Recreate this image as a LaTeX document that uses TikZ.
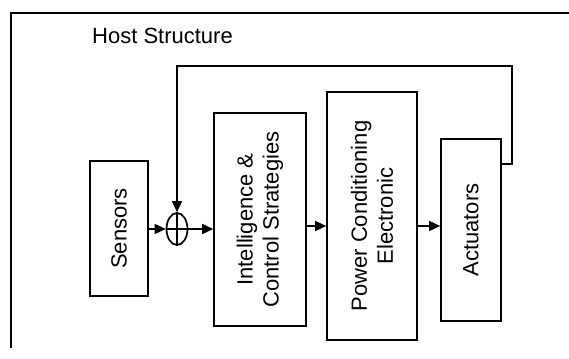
\documentclass[tikz,border=0pt]{standalone}
\usepackage{fontspec}
\setmainfont{Liberation Sans}
\usetikzlibrary{arrows.meta,shapes.geometric}
\begin{document}
\begin{tikzpicture}[x=1pt,y=-1pt,
  line width=1.7pt,
  font=\fontsize{22}{26}\selectfont,
  blockbox/.style={draw,rectangle,inner sep=0pt,line width=1.7pt},
  arr/.style={-{Triangle[length=11pt,width=10pt]}},
  rtext/.style={rotate=90,align=center}]
\useasboundingbox (0,0) rectangle (569,358);
% frame of host structure
\coordinate (ftl) at (11,13);
\coordinate (ftr) at (569,13);
\coordinate (fbl) at (11,348);
\draw (ftr) -- (ftl) -- (fbl);
\node[anchor=west] (host) at (88,36) {Host Structure};
% blocks
\node[blockbox,minimum width=58pt,minimum height=135pt,label={[rtext]center:Sensors}] (sensors) at (119,228.5) {};
\node[blockbox,minimum width=92pt,minimum height=213pt,label={[rtext]center:Intelligence \&\\Control Strategies}] (intel) at (260,219.5) {};
\node[blockbox,minimum width=90pt,minimum height=248pt,label={[rtext]center:Power Conditioning\\Electronic}] (power) at (372,216) {};
\node[blockbox,minimum width=60pt,minimum height=182pt,label={[rtext]center:Actuators}] (act) at (471,230) {};
\node[draw,ellipse,inner sep=0pt,minimum width=21pt,minimum height=32pt,line width=1.7pt] (sum) at (177,229) {};
\draw (sum.north) -- (sum.south) (sum.west) -- (sum.east);
% connectors
\coordinate (rowa) at (0,229);
\coordinate (rowb) at (0,226);
\draw[arr] (sensors.east |- rowa) -- (sum.west);
\draw[arr] (sum.east) -- (intel.west |- rowa);
\draw[arr] (intel.east |- rowb) -- (power.west |- rowb);
\draw[arr] (power.east |- rowb) -- (act.west |- rowb);
% feedback
\coordinate (fbo) at (0,164);
\coordinate (fbr) at (512,66);
\draw[arr] (act.east |- fbo) -| (fbr) -| (sum.north);
\end{tikzpicture}
\end{document}
